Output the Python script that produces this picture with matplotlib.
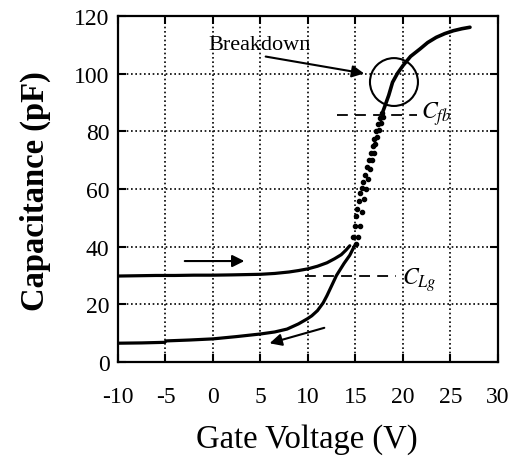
import matplotlib
matplotlib.use("Agg")
import matplotlib.pyplot as plt
from matplotlib.patches import Ellipse

# 正向扫描 (上面那条, 平坦段)
fwd_v = [-10, -8, -6, -4, -2, 0, 2, 3.5, 5, 6.5, 8, 9, 10, 11, 12, 12.8, 13.5, 14.0, 14.4]
fwd_c = [29.8, 29.9, 30.0, 30.0, 30.1, 30.1, 30.2, 30.3, 30.4, 30.7, 31.2, 31.7, 32.3, 33.2, 34.4, 35.8, 37.2, 38.8, 40.3]

# 正向扫描的陡升段 (散点)
fwd_rise_v = [14.7, 14.9, 15.05, 15.2, 15.35, 15.5, 15.65, 15.8, 16.0, 16.2, 16.4, 16.6, 16.8, 17.0, 17.2, 17.4, 17.6, 17.8]
fwd_rise_c = [43.5, 47.0, 50.5, 53.0, 56.0, 58.5, 60.5, 62.5, 65.0, 67.5, 70.0, 72.5, 75.0, 77.5, 80.0, 82.5, 84.5, 86.5]

# 击穿之后的顶部段
top_v = [17.9, 18.1, 18.5, 18.9, 19.4, 20.0, 20.8, 21.8, 22.6, 23.5, 24.4, 25.3, 26.2, 27.05]
top_c = [87.0, 88.8, 92.5, 97.0, 100.0, 102.8, 106.0, 108.6, 110.8, 112.6, 113.9, 114.9, 115.6, 116.1]

# 反向扫描的陡降段 (散点)
rev_rise_v = [17.9, 17.7, 17.5, 17.3, 17.1, 16.9, 16.7, 16.5, 16.3, 16.1, 15.9, 15.7, 15.5, 15.3, 15.1]
rev_rise_c = [85.0, 83.0, 80.5, 78.0, 75.5, 72.5, 70.0, 67.0, 63.5, 60.0, 56.5, 52.0, 47.0, 43.5, 41.0]

# 反向扫描 (下面那条)
rev_v = [14.9, 14.4, 13.8, 13.0, 12.5, 12.0, 11.6, 11.0, 10.4, 9.9, 9.0, 7.8, 6.5, 5.0, 2.5, 0, -2.5, -4.9, -5.1, -7.5, -10]
rev_c = [40.3, 37.0, 34.2, 30.0, 26.5, 23.0, 20.5, 17.8, 16.0, 14.9, 13.2, 11.4, 10.4, 9.7, 8.8, 8.0, 7.6, 7.3, 6.8, 6.6, 6.5]

x_ticks = [-10, -5, 0, 5, 10, 15, 20, 25, 30]
y_ticks = [0, 20, 40, 60, 80, 100, 120]

c_fb = 85.7
c_lg = 29.9

plt.rcParams['font.family'] = ['Liberation Serif', 'DejaVu Serif']
plt.rcParams['mathtext.fontset'] = 'stix'

fig = plt.figure(figsize=(5.15, 4.6), dpi=100)
ax = fig.add_axes([0.229, 0.211, 0.738, 0.752])

ax.set_xlim(-10, 30)
ax.set_ylim(0, 120)
ax.set_xticks(x_ticks)
ax.set_yticks(y_ticks)
ax.set_xticklabels([str(t) for t in x_ticks], fontsize=17)
ax.set_yticklabels([str(t) for t in y_ticks], fontsize=17)
ax.tick_params(direction='in', length=6, width=1.5, top=True, right=True)
ax.tick_params(axis='x', pad=17)
ax.tick_params(axis='y', pad=6)
for s in ax.spines.values():
    s.set_linewidth(1.6)

ax.grid(True, linestyle=(0, (1, 1.6)), color='k', lw=1.2)
ax.set_axisbelow(True)

# 曲线
ax.plot(fwd_v, fwd_c, color='k', lw=2.3, solid_capstyle='round')
ax.plot(fwd_rise_v, fwd_rise_c, 'o', color='k', ms=3.0)
ax.plot(top_v, top_c, color='k', lw=2.6, solid_capstyle='round')
ax.plot(rev_rise_v, rev_rise_c, 'o', color='k', ms=3.0)
ax.plot(rev_v, rev_c, color='k', lw=2.3, solid_capstyle='round')

# 虚线 C_fb 和 C_Lg
ax.plot([13.05, 21.5], [c_fb, c_fb], color='k', lw=1.3, dashes=(6, 4))
ax.plot([9.7, 19.3], [c_lg, c_lg], color='k', lw=1.3, dashes=(6, 4))
ax.text(21.9, c_fb + 0.5, '$C_{fb}$', fontsize=17, va='center', ha='left')
ax.text(19.9, c_lg - 1.0, '$C_{Lg}$', fontsize=17, va='center', ha='left')

# 击穿处的圆圈
ax.add_patch(Ellipse((19.05, 97.1), 5.05, 16.6, fill=False, ec='k', lw=1.5))

# 标注
ax.text(4.95, 110.0, 'Breakdown', fontsize=16, ha='center', va='center')
ax.annotate('', xy=(16.2, 99.9), xytext=(5.26, 106.1),
            arrowprops=dict(arrowstyle='-|>', color='k', lw=1.5, mutation_scale=18))
ax.annotate('', xy=(3.6, 35.0), xytext=(-3.26, 35.0),
            arrowprops=dict(arrowstyle='-|>', color='k', lw=1.5, mutation_scale=18))
ax.annotate('', xy=(5.68, 6.2), xytext=(12.0, 12.1),
            arrowprops=dict(arrowstyle='-|>', color='k', lw=1.5, mutation_scale=18))

fig.text(0.068, 0.585, 'Capacitance (pF)', fontsize=23.5, fontweight='bold',
         rotation=90, ha='center', va='center')
fig.text(0.595, 0.045, 'Gate Voltage (V)', fontsize=23.5, ha='center', va='center')

fig.savefig('out.png', dpi=100)
